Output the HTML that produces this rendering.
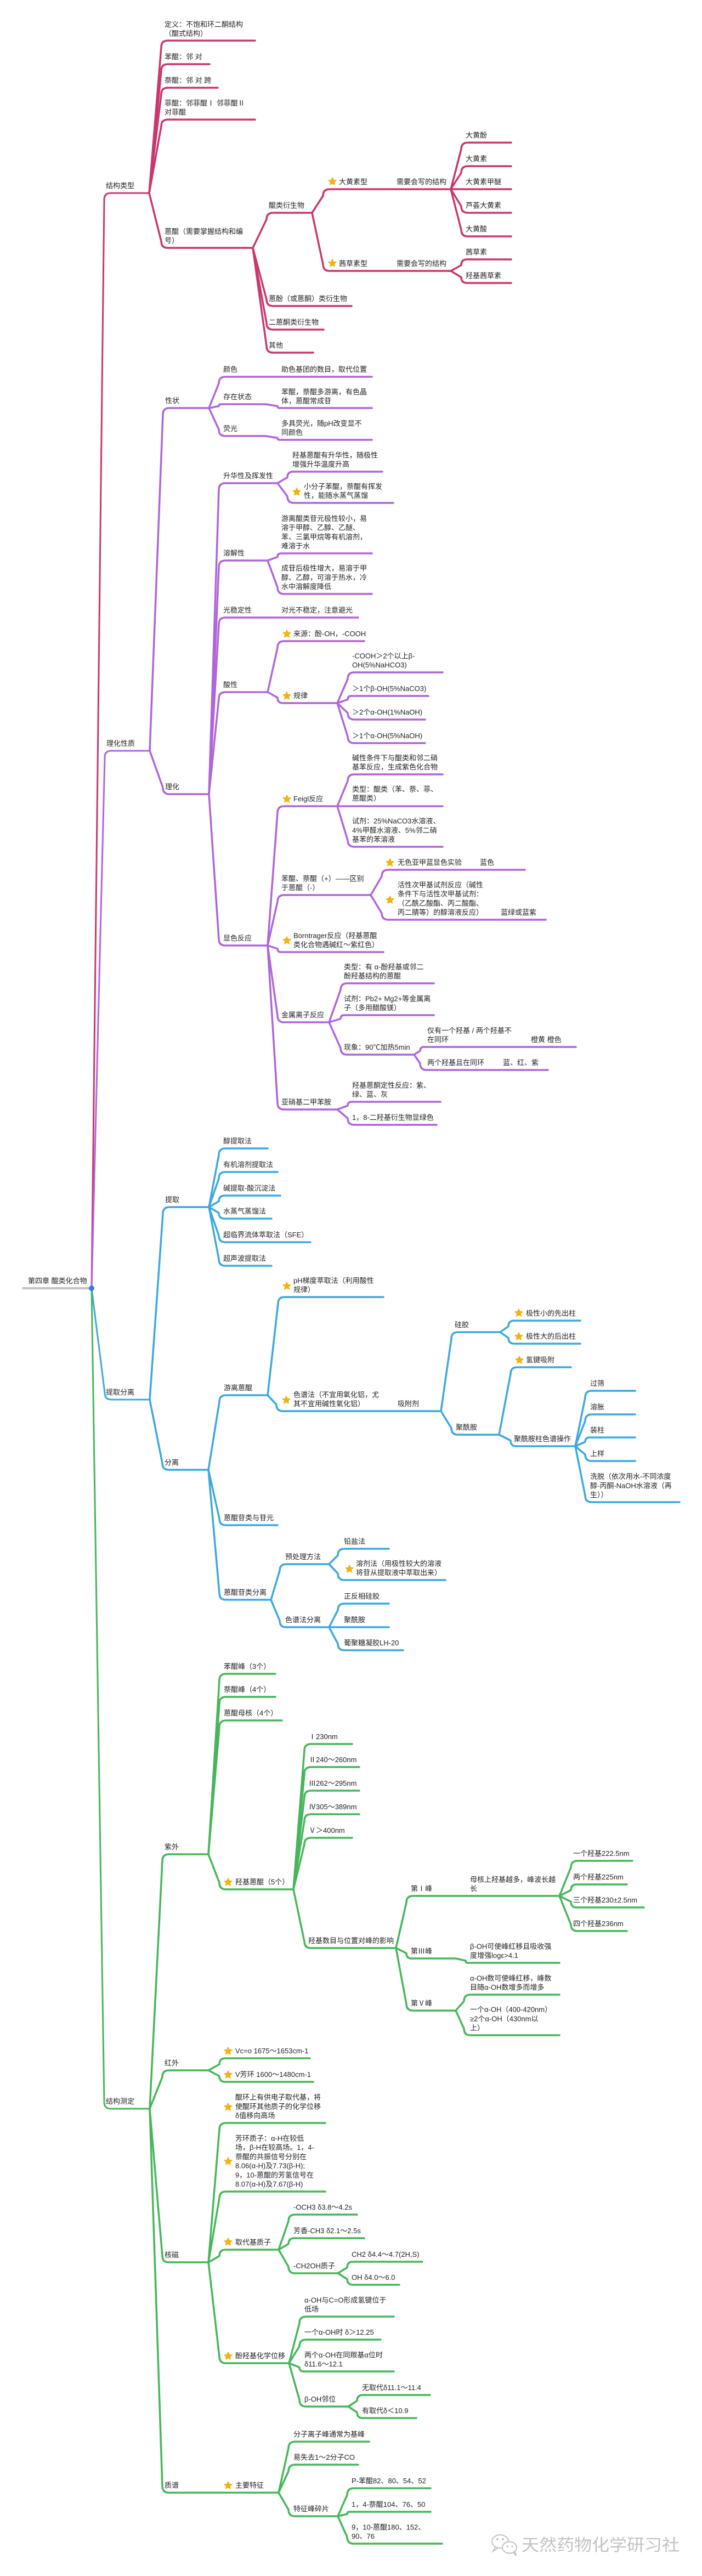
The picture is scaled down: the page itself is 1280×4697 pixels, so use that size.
<!DOCTYPE html>
<html><head><meta charset="utf-8"><style>
html,body{margin:0;padding:0;background:#fff;}
svg{display:block;}
text{font-family:"Liberation Sans","Noto Sans CJK SC",sans-serif;font-size:13px;fill:#222;}
.wm{font-size:30px;fill:#c2c2c2;}
</style></head><body>
<svg width="1280" height="4697" viewBox="0 0 1280 4697" xmlns="http://www.w3.org/2000/svg">
<defs>
<polygon id="st" points="0,-7.5 2,-2.8 7.1,-2.3 3.3,1.1 4.4,6.1 0,3.5 -4.4,6.1 -3.3,1.1 -7.1,-2.3 -2,-2.8" fill="#f5b30f" stroke="#f0a800" stroke-width="1" stroke-linejoin="round"/>
</defs>
<rect width="1280" height="4697" fill="#fff"/>

<!-- RED -->
<g fill="none" stroke="#c8376e" stroke-width="3.5" stroke-linecap="round" stroke-linejoin="round">
<path stroke-width="3" d="M167 2349 L190 364 Q190 352 202 352 H272"/>
<path d="M272 352 L294 86 Q294 74 306 74 H465"/>
<path d="M272 352 L294 129 Q294 117 306 117 H382"/>
<path d="M272 352 L294 172 Q294 160 306 160 H397"/>
<path d="M272 352 L294 230 Q294 218 306 218 H465"/>
<path d="M272 352 L294 440 Q294 452 306 452 H461"/>
<path d="M461 452 L486 400 Q486 388 498 388 H569"/>
<path d="M461 452 L486 546 Q486 558 498 558 H641"/>
<path d="M461 452 L486 589 Q486 601 498 601 H590"/>
<path d="M461 452 L486 631 Q486 643 498 643 H571"/>
<path d="M569 388 L589 357 Q589 345 601 345 H822"/>
<path d="M569 388 L589 482 Q589 494 601 494 H822"/>
<path d="M822 345 L841 272 Q841 260 853 260 H932"/>
<path d="M822 345 L841 315 Q841 303 853 303 H932"/>
<path d="M822 345 H932"/>
<path d="M822 345 L841 376 Q841 388 853 388 H932"/>
<path d="M822 345 L841 419 Q841 431 853 431 H932"/>
<path d="M822 494 L841 483.5 Q841 473 851.5 473 H932"/>
<path d="M822 494 L841 505.5 Q841 516 851.5 516 H932"/>
</g>

<!-- PURPLE -->
<g fill="none" stroke="#b065d8" stroke-width="3.5" stroke-linecap="round" stroke-linejoin="round">
<path stroke-width="3" d="M167 2349 L191 1381 Q191 1369 203 1369 H273"/>
<path d="M273 1369 L297 756 Q297 744 309 744 H381"/>
<path d="M273 1369 L297 1436 Q297 1448 309 1448 H381"/>
<path d="M381 744 L399 699 Q399 687 411 687 H678"/>
<path d="M381 744 L399 740.5 Q399 737 402.5 737 H484"/>
<path d="M484 737 L506 740.5 Q506 744 509.5 744 H678"/>
<path d="M381 744 L399 783 Q399 795 411 795 H484"/>
<path d="M484 795 L506 798.5 Q506 802 509.5 802 H678"/>
<path d="M381 1448 L399 893 Q399 881 411 881 H506"/>
<path d="M506 881 L524 870.5 Q524 860 534.5 860 H697"/>
<path d="M506 881 L524 905 Q524 917 536 917 H717"/>
<path d="M381 1448 L399 1034 Q399 1022 411 1022 H488"/>
<path d="M488 1022 L506 1015.5 Q506 1009 512.5 1009 H678"/>
<path d="M488 1022 L506 1071 Q506 1083 518 1083 H678"/>
<path d="M381 1448 L399 1138 Q399 1126 411 1126 H653"/>
<path d="M381 1448 L399 1274 Q399 1262 411 1262 H488"/>
<path d="M488 1262 L506 1181 Q506 1169 518 1169 H664"/>
<path d="M488 1262 L506 1272 Q506 1282 516 1282 H615"/>
<path d="M615 1282 L634 1238 Q634 1226 646 1226 H807"/>
<path d="M615 1282 L634 1275.5 Q634 1269 640.5 1269 H781"/>
<path d="M615 1282 L634 1300 Q634 1312 646 1312 H775"/>
<path d="M615 1282 L634 1343 Q634 1355 646 1355 H775"/>
<path d="M381 1448 L399 1712 Q399 1724 411 1724 H488"/>
<path d="M488 1724 L506 1482 Q506 1470 518 1470 H615"/>
<path d="M615 1470 L634 1424 Q634 1412 646 1412 H807"/>
<path d="M615 1470 H807"/>
<path d="M615 1470 L634 1532 Q634 1544 646 1544 H807"/>
<path d="M488 1724 L506 1644 Q506 1632 518 1632 H676"/>
<path d="M676 1632 L696 1598 Q696 1586 708 1586 H957"/>
<path d="M676 1632 L696 1665 Q696 1677 708 1677 H995"/>
<path d="M488 1724 L506 1730 Q506 1736 512 1736 H699"/>
<path d="M488 1724 L506 1852 Q506 1864 518 1864 H600"/>
<path d="M600 1864 L621 1805 Q621 1793 633 1793 H791"/>
<path d="M600 1864 L621 1857.5 Q621 1851 627.5 1851 H791"/>
<path d="M600 1864 L621 1911 Q621 1923 633 1923 H755"/>
<path d="M755 1923 L766 1916 Q766 1909 773 1909 H1050"/>
<path d="M755 1923 L766 1939 Q766 1951 778 1951 H999"/>
<path d="M488 1724 L506 2011 Q506 2023 518 2023 H615"/>
<path d="M615 2023 L634 2016 Q634 2009 641 2009 H803"/>
<path d="M615 2023 L634 2039 Q634 2051 646 2051 H796"/>
</g>

<!-- BLUE -->
<g fill="none" stroke="#3da8df" stroke-width="3.5" stroke-linecap="round" stroke-linejoin="round">
<path stroke-width="3" d="M167 2349 L191 2540 Q191 2552 203 2552 H273"/>
<path d="M273 2552 L297 2213 Q297 2201 309 2201 H381"/>
<path d="M273 2552 L296 2668 Q296 2680 308 2680 H380"/>
<path d="M381 2201 L399 2106 Q399 2094 411 2094 H488"/>
<path d="M381 2201 L399 2149 Q399 2137 411 2137 H506"/>
<path d="M381 2201 L399 2190.5 Q399 2180 409.5 2180 H511"/>
<path d="M381 2201 L399 2211.5 Q399 2222 409.5 2222 H495"/>
<path d="M381 2201 L399 2253 Q399 2265 411 2265 H566"/>
<path d="M381 2201 L399 2296 Q399 2308 411 2308 H495"/>
<path d="M380 2680 L400 2556 Q400 2544 412 2544 H488"/>
<path d="M380 2680 L400 2769 Q400 2781 412 2781 H506"/>
<path d="M380 2680 L400 2905 Q400 2917 412 2917 H494"/>
<path d="M488 2544 L507 2377 Q507 2365 519 2365 H699"/>
<path d="M488 2544 L504 2561 Q504 2573 516 2573 H804"/>
<path d="M804 2573 L823 2441 Q823 2429 835 2429 H912"/>
<path d="M804 2573 L823 2604 Q823 2616 835 2616 H910"/>
<path d="M912 2429 L927 2418.5 Q927 2408 937.5 2408 H1058"/>
<path d="M912 2429 L927 2439.5 Q927 2450 937.5 2450 H1058"/>
<path d="M910 2616 L931 2505 Q931 2493 943 2493 H1041"/>
<path d="M910 2616 L931 2626.5 Q931 2637 941.5 2637 H1049"/>
<path d="M1049 2637 L1067 2548 Q1067 2536 1079 2536 H1158"/>
<path d="M1049 2637 L1067 2591 Q1067 2579 1079 2579 H1158"/>
<path d="M1049 2637 L1067 2629 Q1067 2621 1075 2621 H1158"/>
<path d="M1049 2637 L1067 2652 Q1067 2664 1079 2664 H1158"/>
<path d="M1049 2637 L1067 2727 Q1067 2739 1079 2739 H1239"/>
<path d="M494 2917 L510 2864 Q510 2852 522 2852 H600"/>
<path d="M494 2917 L510 2955 Q510 2967 522 2967 H600"/>
<path d="M600 2852 L616 2836 Q616 2824 628 2824 H709"/>
<path d="M600 2852 L616 2869 Q616 2881 628 2881 H812"/>
<path d="M600 2967 L616 2936 Q616 2924 628 2924 H709"/>
<path d="M600 2967 H709"/>
<path d="M600 2967 L616 2997 Q616 3009 628 3009 H735"/>
</g>

<!-- GREEN -->
<g fill="none" stroke="#47b65a" stroke-width="3.5" stroke-linecap="round" stroke-linejoin="round">
<path stroke-width="3" d="M167 2349 L190 3833 Q190 3845 202 3845 H273"/>
<path d="M273 3845 L296 3393 Q296 3381 308 3381 H380"/>
<path d="M273 3845 L296 3787 Q296 3775 308 3775 H380"/>
<path d="M273 3845 L296 4113 Q296 4125 308 4125 H380"/>
<path d="M273 3845 L296 4533 Q296 4545 308 4545 H508"/>
<path d="M380 3381 L400 3064 Q400 3052 412 3052 H502"/>
<path d="M380 3381 L400 3106 Q400 3094 412 3094 H502"/>
<path d="M380 3381 L400 3149 Q400 3137 412 3137 H514"/>
<path d="M380 3381 L400 3433 Q400 3445 412 3445 H535"/>
<path d="M535 3445 L555 3192 Q555 3180 567 3180 H642"/>
<path d="M535 3445 L555 3234 Q555 3222 567 3222 H655"/>
<path d="M535 3445 L555 3277 Q555 3265 567 3265 H655"/>
<path d="M535 3445 L555 3320 Q555 3308 567 3308 H655"/>
<path d="M535 3445 L555 3363 Q555 3351 567 3351 H642"/>
<path d="M535 3445 L555 3540 Q555 3552 567 3552 H722"/>
<path d="M722 3552 L741 3469 Q741 3457 753 3457 H1020"/>
<path d="M722 3552 L741 3561.5 Q741 3571 750.5 3571 H831"/>
<path d="M831 3571 L849 3575 Q849 3579 853 3579 H1020"/>
<path d="M722 3552 L741 3654 Q741 3666 753 3666 H831"/>
<path d="M1020 3457 L1041 3405 Q1041 3393 1053 3393 H1153"/>
<path d="M1020 3457 L1041 3446.5 Q1041 3436 1051.5 3436 H1143"/>
<path d="M1020 3457 L1041 3467.5 Q1041 3478 1051.5 3478 H1174"/>
<path d="M1020 3457 L1041 3509 Q1041 3521 1053 3521 H1143"/>
<path d="M831 3666 L846 3649 Q846 3637 858 3637 H1020"/>
<path d="M831 3666 L846 3699 Q846 3711 858 3711 H1020"/>
<path d="M380 3775 L400 3764 Q400 3753 411 3753 H565"/>
<path d="M380 3775 L400 3785.5 Q400 3796 410.5 3796 H571"/>
<path d="M380 4125 L400 3883 Q400 3871 412 3871 H593"/>
<path d="M380 4125 L400 4008 Q400 3996 412 3996 H593"/>
<path d="M380 4125 L400 4113.5 Q400 4102 411.5 4102 H508"/>
<path d="M380 4125 L400 4297 Q400 4309 412 4309 H527"/>
<path d="M508 4102 L526 4050 Q526 4038 538 4038 H651"/>
<path d="M508 4102 L526 4091.5 Q526 4081 536.5 4081 H664"/>
<path d="M508 4102 L526 4133 Q526 4145 538 4145 H616"/>
<path d="M616 4145 L633 4134.5 Q633 4124 643.5 4124 H770"/>
<path d="M616 4145 L633 4155.5 Q633 4166 643.5 4166 H728"/>
<path d="M527 4309 L546 4236 Q546 4224 558 4224 H718"/>
<path d="M527 4309 L546 4278 Q546 4266 558 4266 H694"/>
<path d="M527 4309 L546 4316.5 Q546 4324 553.5 4324 H718"/>
<path d="M527 4309 L546 4376 Q546 4388 558 4388 H635"/>
<path d="M635 4388 L651 4377.5 Q651 4367 661.5 4367 H784"/>
<path d="M635 4388 L651 4398.5 Q651 4409 661.5 4409 H759"/>
<path d="M508 4545 L526 4464 Q526 4452 538 4452 H673"/>
<path d="M508 4545 L526 4506 Q526 4494 538 4494 H653"/>
<path d="M508 4545 L526 4576 Q526 4588 538 4588 H616"/>
<path d="M616 4588 L633 4549 Q633 4537 645 4537 H785"/>
<path d="M616 4588 L633 4584 Q633 4580 637 4580 H785"/>
<path d="M616 4588 L633 4626 Q633 4638 645 4638 H806"/>
</g>

<!-- ROOT -->
<path d="M42 2349 H167" stroke="#c4c4c4" stroke-width="4" stroke-linecap="round"/>
<circle cx="167" cy="2349" r="5" fill="#2f7de1"/>
<text x="51" y="2340">第四章 醌类化合物</text>

<!-- STARS -->
<use href="#st" x="606" y="331"/><use href="#st" x="606" y="480"/>
<use href="#st" x="541" y="897"/>
<use href="#st" x="523" y="1156"/><use href="#st" x="523" y="1269"/>
<use href="#st" x="523" y="1457"/>
<use href="#st" x="711" y="1573"/><use href="#st" x="711" y="1641"/>
<use href="#st" x="523" y="1715"/>
<use href="#st" x="523" y="2345"/><use href="#st" x="522" y="2553"/>
<use href="#st" x="946" y="2394"/><use href="#st" x="946" y="2437"/>
<use href="#st" x="947" y="2480"/>
<use href="#st" x="637" y="2861"/>
<use href="#st" x="416" y="3432"/>
<use href="#st" x="416" y="3740"/><use href="#st" x="416" y="3783"/>
<use href="#st" x="416" y="3842"/><use href="#st" x="416" y="3941"/>
<use href="#st" x="416" y="4088"/><use href="#st" x="416" y="4296"/>
<use href="#st" x="416" y="4532"/>

<!-- RED TEXT -->
<text x="193" y="343">结构类型</text>
<text x="300" y="48.8">定义：不饱和环二酮结构</text>
<text x="300" y="65.5">（醌式结构）</text>
<text x="300" y="108">苯醌：邻 对</text>
<text x="300" y="151">萘醌：邻 对 跨</text>
<text x="300" y="192.3">菲醌：邻菲醌Ⅰ 邻菲醌Ⅱ</text>
<text x="300" y="209">对菲醌</text>
<text x="300" y="426.3">蒽醌（需要掌握结构和编</text>
<text x="300" y="443">号）</text>
<text x="490" y="379">醌类衍生物</text>
<text x="490" y="549">蒽酚（或蒽酮）类衍生物</text>
<text x="490" y="592">二蒽酮类衍生物</text>
<text x="490" y="634">其他</text>
<text x="618" y="336">大黄素型</text>
<text x="723" y="336">需要会写的结构</text>
<text x="618" y="485">茜草素型</text>
<text x="723" y="485">需要会写的结构</text>
<text x="849" y="251">大黄酚</text>
<text x="849" y="294">大黄素</text>
<text x="849" y="336">大黄素甲醚</text>
<text x="849" y="379">芦荟大黄素</text>
<text x="849" y="422">大黄酸</text>
<text x="849" y="464">茜草素</text>
<text x="849" y="507">羟基茜草素</text>

<!-- PURPLE TEXT -->
<text x="194" y="1360">理化性质</text>
<text x="301" y="735">性状</text>
<text x="301" y="1439">理化</text>
<text x="407" y="678">颜色</text>
<text x="513" y="678">助色基团的数目，取代位置</text>
<text x="407" y="728">存在状态</text>
<text x="513" y="719">苯醌，萘醌多游离，有色晶</text>
<text x="513" y="735.5">体，蒽醌常成苷</text>
<text x="407" y="786">荧光</text>
<text x="513" y="776.3">多具荧光，随pH改变显不</text>
<text x="513" y="793">同颜色</text>
<text x="407" y="872">升华性及挥发性</text>
<text x="533" y="834.3">羟基蒽醌有升华性，随极性</text>
<text x="533" y="851">增强升华温度升高</text>
<text x="554" y="891.3">小分子苯醌，萘醌有挥发</text>
<text x="554" y="908">性，能随水蒸气蒸馏</text>
<text x="407" y="1013">溶解性</text>
<text x="513" y="949.9">游离醌类苷元极性较小，易</text>
<text x="513" y="966.6">溶于甲醇、乙醇、乙醚、</text>
<text x="513" y="983.3">苯、三氯甲烷等有机溶剂，</text>
<text x="513" y="1000">难溶于水</text>
<text x="513" y="1040.6">成苷后极性增大，易溶于甲</text>
<text x="513" y="1057.3">醇、乙醇，可溶于热水，冷</text>
<text x="513" y="1074">水中溶解度降低</text>
<text x="407" y="1117">光稳定性</text>
<text x="513" y="1117">对光不稳定，注意避光</text>
<text x="407" y="1253">酸性</text>
<text x="535" y="1160">来源：酚-OH，-COOH</text>
<text x="535" y="1273">规律</text>
<text x="642" y="1200.3">-COOH＞2个以上β-</text>
<text x="642" y="1217">OH(5%NaHCO3)</text>
<text x="642" y="1260">＞1个β-OH(5%NaCO3)</text>
<text x="642" y="1303">＞2个α-OH(1%NaOH)</text>
<text x="642" y="1346">＞1个α-OH(5%NaOH)</text>
<text x="407" y="1715">显色反应</text>
<text x="535" y="1461">Feigl反应</text>
<text x="642" y="1386.3">碱性条件下与醌类和邻二硝</text>
<text x="642" y="1403">基苯反应，生成紫色化合物</text>
<text x="642" y="1443.3">类型：醌类（苯、萘、菲、</text>
<text x="642" y="1460">蒽醌类）</text>
<text x="642" y="1501.6">试剂：25%NaCO3水溶液、</text>
<text x="642" y="1518.3">4%甲醛水溶液、5%邻二硝</text>
<text x="642" y="1535">基苯的苯溶液</text>
<text x="513" y="1606.3">苯醌、萘醌（+）——区别</text>
<text x="513" y="1623">于蒽醌（-）</text>
<text x="725" y="1577">无色亚甲蓝显色实验</text>
<text x="875" y="1577">蓝色</text>
<text x="725" y="1617.9">活性次甲基试剂反应（碱性</text>
<text x="725" y="1634.6">条件下与活性次甲基试剂：</text>
<text x="725" y="1651.3">（乙酰乙酸酯、丙二酸酯、</text>
<text x="725" y="1668">丙二腈等）的醇溶液反应）</text>
<text x="913" y="1668">蓝绿或蓝紫</text>
<text x="535" y="1710.3">Borntrager反应（羟基蒽醌</text>
<text x="535" y="1727">类化合物遇碱红～紫红色）</text>
<text x="513" y="1855">金属离子反应</text>
<text x="627" y="1767.3">类型：有 α-酚羟基或邻二</text>
<text x="627" y="1784">酚羟基结构的蒽醌</text>
<text x="627" y="1825.3">试剂：Pb2+ Mg2+等金属离</text>
<text x="627" y="1842">子（多用醋酸镁）</text>
<text x="627" y="1914">现象：90℃加热5min</text>
<text x="779" y="1883.3">仅有一个羟基 / 两个羟基不</text>
<text x="779" y="1900">在同环</text>
<text x="968" y="1900">橙黄 橙色</text>
<text x="779" y="1942">两个羟基且在同环</text>
<text x="917" y="1942">蓝、红、紫</text>
<text x="513" y="2014">亚硝基二甲苯胺</text>
<text x="642" y="1983.3">羟基蒽酮定性反应：紫、</text>
<text x="642" y="2000">绿、蓝、灰</text>
<text x="642" y="2042">1，8-二羟基衍生物显绿色</text>

<!-- BLUE TEXT -->
<text x="193" y="2543">提取分离</text>
<text x="301" y="2192">提取</text>
<text x="407" y="2085">醇提取法</text>
<text x="407" y="2128">有机溶剂提取法</text>
<text x="407" y="2171">碱提取-酸沉淀法</text>
<text x="407" y="2213">水蒸气蒸馏法</text>
<text x="407" y="2256">超临界流体萃取法（SFE）</text>
<text x="407" y="2299">超声波提取法</text>
<text x="300" y="2671">分离</text>
<text x="408" y="2535">游离蒽醌</text>
<text x="535" y="2339.3">pH梯度萃取法（利用酸性</text>
<text x="535" y="2356">规律）</text>
<text x="535" y="2547.3">色谱法（不宜用氧化铝，尤</text>
<text x="535" y="2564">其不宜用碱性氧化铝）</text>
<text x="725" y="2564">吸附剂</text>
<text x="829" y="2420">硅胶</text>
<text x="959" y="2399">极性小的先出柱</text>
<text x="959" y="2441">极性大的后出柱</text>
<text x="831" y="2607">聚酰胺</text>
<text x="959" y="2484">氢键吸附</text>
<text x="937" y="2628">聚酰胺柱色谱操作</text>
<text x="1076" y="2527">过筛</text>
<text x="1076" y="2570">溶胀</text>
<text x="1076" y="2612">装柱</text>
<text x="1076" y="2655">上样</text>
<text x="1076" y="2696.6">洗脱（依次用水-不同浓度</text>
<text x="1076" y="2713.3">醇-丙酮-NaOH水溶液（再</text>
<text x="1076" y="2730">生））</text>
<text x="408" y="2772">蒽醌苷类与苷元</text>
<text x="408" y="2908">蒽醌苷类分离</text>
<text x="520" y="2843">预处理方法</text>
<text x="627" y="2815">铅盐法</text>
<text x="649" y="2855.3">溶剂法（用极性较大的溶液</text>
<text x="649" y="2872">将苷从提取液中萃取出来）</text>
<text x="520" y="2958">色谱法分离</text>
<text x="627" y="2915">正反相硅胶</text>
<text x="627" y="2958">聚酰胺</text>
<text x="627" y="3000">葡聚糖凝胶LH-20</text>

<!-- GREEN TEXT -->
<text x="193" y="3836">结构测定</text>
<text x="300" y="3372">紫外</text>
<text x="408" y="3043">苯醌峰（3个）</text>
<text x="408" y="3085">萘醌峰（4个）</text>
<text x="408" y="3128">蒽醌母核（4个）</text>
<text x="429" y="3436">羟基蒽醌（5个）</text>
<text x="563" y="3171">Ⅰ230nm</text>
<text x="563" y="3213">Ⅱ240～260nm</text>
<text x="563" y="3256">Ⅲ262～295nm</text>
<text x="563" y="3299">Ⅳ305～389nm</text>
<text x="563" y="3342">Ⅴ＞400nm</text>
<text x="562" y="3543">羟基数目与位置对峰的影响</text>
<text x="749" y="3448">第Ⅰ峰</text>
<text x="857" y="3431.3">母核上羟基越多，峰波长越</text>
<text x="857" y="3448">长</text>
<text x="1045" y="3384">一个羟基222.5nm</text>
<text x="1045" y="3427">两个羟基225nm</text>
<text x="1045" y="3469">三个羟基230±2.5nm</text>
<text x="1045" y="3512">四个羟基236nm</text>
<text x="749" y="3562">第Ⅲ峰</text>
<text x="857" y="3553.3">β-OH可使峰红移且吸收强</text>
<text x="857" y="3570">度增强logε&gt;4.1</text>
<text x="749" y="3657">第Ⅴ峰</text>
<text x="857" y="3611.3">α-OH数可使峰红移，峰数</text>
<text x="857" y="3628">目随α-OH数增多而增多</text>
<text x="857" y="3668.6">一个α-OH（400-420nm）</text>
<text x="857" y="3685.3">≥2个α-OH（430nm以</text>
<text x="857" y="3702">上）</text>
<text x="300" y="3766">红外</text>
<text x="429" y="3744">Vc=o 1675～1653cm-1</text>
<text x="429" y="3787">V芳环 1600～1480cm-1</text>
<text x="300" y="4116">核磁</text>
<text x="429" y="3828.6">醌环上有供电子取代基，将</text>
<text x="429" y="3845.3">使醌环其他质子的化学位移</text>
<text x="429" y="3862">δ值移向高场</text>
<text x="429" y="3903.5">芳环质子：α-H在较低</text>
<text x="429" y="3920.2">场，β-H在较高场。1，4-</text>
<text x="429" y="3936.9">萘醌的共振信号分别在</text>
<text x="429" y="3953.6">8.06(α-H)及7.73(β-H);</text>
<text x="429" y="3970.3">9，10-蒽醌的芳氢信号在</text>
<text x="429" y="3987">8.07(α-H)及7.67(β-H)</text>
<text x="429" y="4093">取代基质子</text>
<text x="535" y="4029">-OCH3 δ3.8～4.2s</text>
<text x="535" y="4072">芳香-CH3 δ2.1～2.5s</text>
<text x="535" y="4136">-CH2OH质子</text>
<text x="641" y="4115">CH2 δ4.4～4.7(2H,S)</text>
<text x="641" y="4157">OH δ4.0～6.0</text>
<text x="429" y="4300">酚羟基化学位移</text>
<text x="555" y="4198.3">α-OH与C=O形成氢键位于</text>
<text x="555" y="4215">低场</text>
<text x="555" y="4257">一个α-OH时 δ＞12.25</text>
<text x="555" y="4298.3">两个α-OH在同羰基α位时</text>
<text x="555" y="4315">δ11.6～12.1</text>
<text x="555" y="4379">β-OH邻位</text>
<text x="660" y="4358">无取代δ11.1～11.4</text>
<text x="660" y="4400">有取代δ＜10.9</text>
<text x="300" y="4536">质谱</text>
<text x="429" y="4536">主要特征</text>
<text x="535" y="4443">分子离子峰通常为基峰</text>
<text x="535" y="4485">易失去1～2分子CO</text>
<text x="535" y="4579">特征峰碎片</text>
<text x="641" y="4528">P-苯醌82、80、54、52</text>
<text x="641" y="4571">1，4-萘醌104、76、50</text>
<text x="641" y="4612.3">9，10-蒽醌180、152、</text>
<text x="641" y="4629">90、76</text>

<!-- WATERMARK -->
<g fill="none" stroke="#c2c2c2" stroke-width="2">
<ellipse cx="912" cy="4634" rx="15" ry="12"/>
<ellipse cx="929" cy="4645" rx="13" ry="10.5" fill="#fff"/>
<path d="M903 4644 L899 4652 L908 4646"/>
<path d="M936 4654 L941 4660 L939 4652"/>
</g>
<circle cx="907" cy="4630" r="2" fill="#c2c2c2"/><circle cx="917" cy="4630" r="2" fill="#c2c2c2"/>
<circle cx="925" cy="4643" r="1.6" fill="#c2c2c2"/><circle cx="934" cy="4643" r="1.6" fill="#c2c2c2"/>
<text class="wm" x="951" y="4651" textLength="288" lengthAdjust="spacingAndGlyphs">天然药物化学研习社</text>
</svg>
</body></html>
